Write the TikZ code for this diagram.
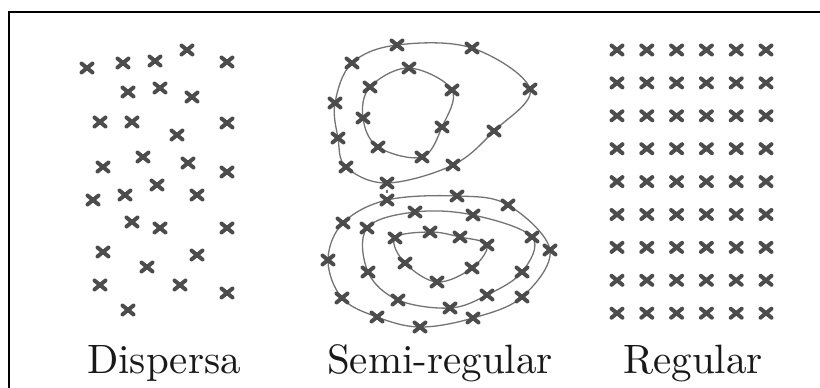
\documentclass[tikz,border=0pt]{standalone}
\usepackage{fontspec}
\newfontfamily\lmten{lmroman10-regular.otf}
\usetikzlibrary{backgrounds}
\begin{document}
\begin{tikzpicture}[x=1pt,y=-1pt,
  xm/.style={inner sep=0pt, minimum width=15pt, minimum height=13pt,
    path picture={\draw[black!70, line width=4pt, line cap=round]
      ([shift={(2pt,-2pt)}]path picture bounding box.north west) -- ([shift={(-2pt,2pt)}]path picture bounding box.south east)
      ([shift={(-2pt,-2pt)}]path picture bounding box.north east) -- ([shift={(2pt,2pt)}]path picture bounding box.south west);}},
  trail/.style={draw=black!55, line width=1.3pt},
  lbl/.style={font=\lmten\fontsize{41}{48}\selectfont, anchor=base, inner sep=0pt, text=black!90},
  frame/.style={line width=2.4pt}]
\useasboundingbox (0,0) rectangle (820,388);
\draw[frame] (9,388) -- (9,12) -- (820,12);

% Dispersa
\foreach \x/\y [count=\i] in {87/68,123/63,155/61,187/50,227/62,
  128/92,160/88,192/97,
  100/122,132/122,177/135,227/123,
  103/167,143/157,188/163,227/172,
  93/200,125/195,157/185,197/195,
  132/222,160/228,227/228,
  103/252,147/267,197/255,
  100/285,180/285,227/293,
  128/310}
  \node[xm] (d\i) at (\x,\y) {};

% Regular
\foreach \c in {0,...,5}
  \foreach \r in {0,...,8}
    \node[xm] (r\c-\r) at ({617+29.8*\c},{50+32.9*\r}) {};

% Semi-regular: upper loops
\node[xm] (A) at (397,45) {};
\node[xm] (B) at (472,48) {};
\node[xm] (C) at (530,89) {};
\node[xm] (D) at (494,131) {};
\node[xm] (E) at (453,165) {};
\node[xm] (F) at (387,183) {};
\node[xm] (G) at (346,167) {};
\node[xm] (H) at (338,138) {};
\node[xm] (I) at (335,103) {};
\node[xm] (J) at (352,63) {};
\node[xm] (K) at (409,68) {};
\node[xm] (L) at (452,90) {};
\node[xm] (M) at (442,127) {};
\node[xm] (N) at (422,157) {};
\node[xm] (O) at (378,147) {};
\node[xm] (P) at (363,118) {};
\node[xm] (Q) at (370,87) {};
% lower spiral
\node[xm] (b) at (387,200) {};
\node[xm] (c) at (457,196) {};
\node[xm] (dd) at (508,205) {};
\node[xm] (e) at (550,250) {};
\node[xm] (f) at (522,297) {};
\node[xm] (g) at (473,318) {};
\node[xm] (h) at (420,327) {};
\node[xm] (i) at (377,317) {};
\node[xm] (j) at (342,298) {};
\node[xm] (k) at (328,260) {};
\node[xm] (l) at (343,223) {};
\node[xm] (m) at (415,212) {};
\node[xm] (n) at (473,215) {};
\node[xm] (o) at (532,237) {};
\node[xm] (p) at (522,272) {};
\node[xm] (q) at (487,295) {};
\node[xm] (r) at (450,308) {};
\node[xm] (s) at (398,300) {};
\node[xm] (t) at (368,272) {};
\node[xm] (u) at (367,228) {};
\node[xm] (v) at (430,232) {};
\node[xm] (w) at (460,237) {};
\node[xm] (xx) at (487,245) {};
\node[xm] (y) at (472,268) {};
\node[xm] (z) at (437,282) {};
\node[xm] (aa) at (405,263) {};
\node[xm] (bb) at (395,238) {};

\begin{scope}[on background layer]
\draw[trail] plot[smooth cycle, tension=0.6] coordinates {(F) (E) (D) (C) (B) (A) (J) (I) (H) (G)};
\draw[trail] plot[smooth cycle, tension=0.6] coordinates {(Q) (K) (L) (M) (N) (O) (P)};
\draw[trail] (F) -- (b);
\draw[trail] plot[smooth cycle, tension=0.6] coordinates {(b) (c) (dd) (e) (f) (g) (h) (i) (j) (k) (l)};
\draw[trail] plot[smooth cycle, tension=0.6] coordinates {(m) (n) (o) (p) (q) (r) (s) (t) (u)};
\draw[trail] plot[smooth cycle, tension=0.6] coordinates {(bb) (v) (w) (xx) (y) (z) (aa)};
\end{scope}

% labels
\node[lbl] (ld) at (164,373) {Dispersa};
\node[lbl] (ls) at (440,373) {Semi-regular};
\node[lbl] (lr) at (693,373) {Regular};
\end{tikzpicture}
\end{document}
